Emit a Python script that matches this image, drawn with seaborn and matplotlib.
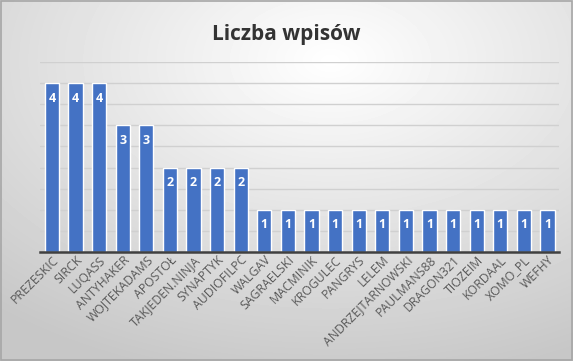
import seaborn as sns
import matplotlib.pyplot as plt
import numpy as np
import pandas as pd

names = ["PREZESKIC", "SIRCK", "LUQASS", "ANTYHAKER", "WOJTEKADAMS", "APOSTOŁ",
         "TAKJEDEN.NINJA", "SYNAPTYK", "AUDIOFILPC", "WALGAV", "SAGRAELSKI",
         "MACMINIK", "KROGULEC", "PANGRYS", "LELEM", "ANDRZEJTARNOWSKI",
         "PAULMANS88", "DRAGON321", "TIOZEIM", "KORDAAL", "XOMO_PL", "WEFHY"]
counts = [4, 4, 4, 3, 3, 2, 2, 2, 2, 1, 1, 1, 1, 1, 1, 1, 1, 1, 1, 1, 1, 1]

df = pd.DataFrame({"name": names, "count": counts})

sns.set_theme(style="white")
plt.rcParams['font.family'] = ['Open Sans', 'DejaVu Sans']

fig = plt.figure(figsize=(5.73, 3.61), dpi=100)

# radial-ish gray gradient background like the office chart
bg = fig.add_axes([0, 0, 1, 1], zorder=-10)
yy, xx = np.mgrid[0:361, 0:573]
r = np.sqrt(((xx - 330) / 573.0) ** 2 + ((yy - 60) / 361.0) ** 2)
bg.imshow(1 - 0.22 * np.clip(r / 0.9, 0, 1), cmap="gray", vmin=0, vmax=1,
          aspect="auto", extent=[0, 1, 0, 1])
bg.set_xlim(0, 1)
bg.set_ylim(0, 1)
bg.axis("off")
bg.add_patch(plt.Rectangle((0.001, 0.002), 0.997, 0.995, fill=False,
                           edgecolor="#a6a6a6", linewidth=1.2))

ax = fig.add_axes([0.070, 0.302, 0.906, 0.526])
ax.patch.set_alpha(0)
sns.barplot(data=df, x="name", y="count", color="#4472C4", saturation=1,
            width=0.6, ax=ax, zorder=3)

ax.set_ylim(0, 4.5)
ax.set_xlim(-0.5, len(names) - 0.5)
ax.set_yticks(np.arange(0.5, 4.6, 0.5))
ax.yaxis.grid(True, color="#d0d0d0", linewidth=1)
ax.tick_params(axis="y", left=False, labelleft=False)
ax.tick_params(axis="x", length=0, pad=1)
for s in ["top", "right", "left"]:
    ax.spines[s].set_visible(False)
ax.spines["bottom"].set_color("#404040")
ax.spines["bottom"].set_linewidth(1.8)
ax.spines["bottom"].set_zorder(5)
ax.set_xlabel("")
ax.set_ylabel("")
ax.set_xticks(range(len(names)))
ax.set_xticklabels(names, rotation=45, ha="right", rotation_mode="anchor",
                   fontsize=8.8, color="#595959")

for i, v in enumerate(counts):
    ax.text(i, v - 0.36, str(v), ha="center", va="center", color="white",
            fontsize=9, fontweight="bold", zorder=6)

fig.text(0.5, 0.905, "Liczba wpisów", ha="center", va="center",
         fontsize=15, fontweight="bold", color="#333333")

fig.savefig("out.png", dpi=100)
